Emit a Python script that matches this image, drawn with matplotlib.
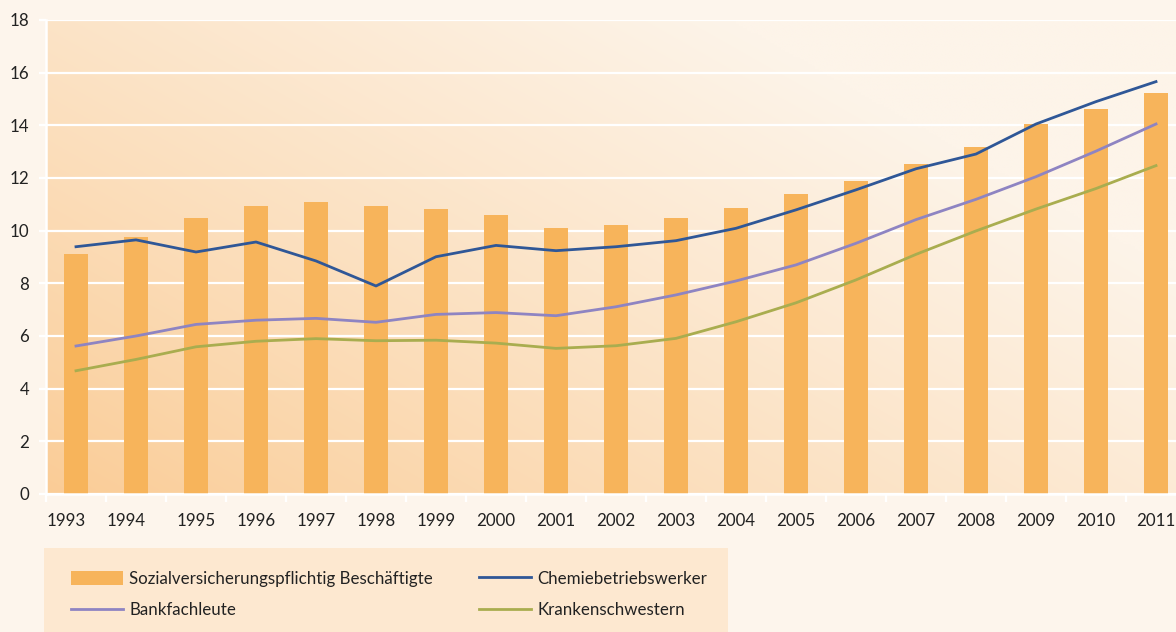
import numpy as np
import matplotlib.pyplot as plt
from matplotlib.patches import Rectangle, Patch
from matplotlib.lines import Line2D

plt.rcParams['font.family'] = ['Lato', 'DejaVu Sans']

years = ['1993', '1994', '1995', '1996', '1997', '1998', '1999', '2000', '2001', '2002',
         '2003', '2004', '2005', '2006', '2007', '2008', '2009', '2010', '2011']
beschaeftigte = [9.1, 9.75, 10.48, 10.94, 11.09, 10.94, 10.82, 10.6, 10.1, 10.22,
                 10.48, 10.86, 11.39, 11.89, 12.53, 13.18, 14.05, 14.62, 15.23]
chemie = [9.39, 9.65, 9.19, 9.57, 8.85, 7.9, 9.01, 9.44, 9.24, 9.39,
          9.62, 10.09, 10.79, 11.55, 12.35, 12.91, 14.05, 14.9, 15.66]
bank = [5.62, 6.0, 6.44, 6.6, 6.67, 6.52, 6.82, 6.89, 6.77, 7.11,
        7.56, 8.09, 8.7, 9.52, 10.42, 11.19, 12.05, 13.02, 14.05]
kranken = [4.68, 5.11, 5.59, 5.8, 5.9, 5.82, 5.84, 5.73, 5.53, 5.63,
           5.91, 6.54, 7.26, 8.13, 9.1, 9.99, 10.82, 11.6, 12.47]

c_bar = '#f7b45b'
c_chemie = '#2f5797'
c_bank = '#8e84c2'
c_kranken = '#a9ad4f'
c_text = '#222222'
bg = '#fdf5ec'
fs = 12.2

fig = plt.figure(figsize=(11.76, 6.32), dpi=100, facecolor=bg)
ax = fig.add_axes([46/1176, 1-494/632, 1140/1176, 474/632])
ax.set_facecolor(bg)

x = np.arange(len(years))
ax.set_xlim(-0.5, len(years) - 0.5)
ax.set_ylim(0, 18)

# diagonal gradient behind the plot
gx, gy = np.meshgrid(np.linspace(0, 1, 300), np.linspace(0, 1, 200))
t = np.clip(0.75 * gx + 0.55 * gy, 0, 1) ** 0.9
c0 = np.array([250, 204, 150]) / 255
c1 = np.array([253, 244, 233]) / 255
img = c0 + (c1 - c0) * t[..., None]
ax.imshow(img, origin='lower', extent=[-0.5, len(years) - 0.5, 0, 18],
          aspect='auto', zorder=0, interpolation='bilinear')

ax.bar(x, beschaeftigte, width=0.39, color=c_bar, zorder=2)
ax.plot(x, chemie, color=c_chemie, lw=2.0, zorder=3)
ax.plot(x, bank, color=c_bank, lw=2.0, zorder=3)
ax.plot(x, kranken, color=c_kranken, lw=2.0, zorder=3)

ax.set_yticks(np.arange(0, 19, 2))
ax.yaxis.grid(True, color='white', lw=1.6, zorder=1)
ax.set_axisbelow(True)

label_shift = [-0.17, -0.17] + [0] * (len(years) - 2)
ax.set_xticks(x + np.array(label_shift))
ax.set_xticklabels(years)
ax.set_xticks(np.arange(-0.5, len(years) - 0.5, 1), minor=True)
ax.tick_params(axis='x', which='major', length=0, pad=14, labelsize=fs, labelcolor=c_text)
ax.tick_params(axis='x', which='minor', length=6, width=1.6, color='white')
ax.tick_params(axis='y', length=5, width=1.6, color='white', pad=7, labelsize=fs, labelcolor=c_text)

for s in ['top', 'right']:
    ax.spines[s].set_visible(False)
for s in ['left', 'bottom']:
    ax.spines[s].set_color('white')
    ax.spines[s].set_linewidth(1.8)
    ax.spines[s].set_zorder(4)

# legend panel
fig.patches.append(Rectangle((44/1176, 0), (728-44)/1176, (632-548)/632,
                             transform=fig.transFigure, facecolor='#fde8d0',
                             edgecolor='none', zorder=0))

leg_kw = dict(loc='center left', frameon=False, fontsize=fs, handlelength=3.05,
              handleheight=0.9, handletextpad=0.4, labelspacing=0.9,
              borderpad=0, borderaxespad=0, labelcolor=c_text)
h1 = [Patch(facecolor=c_bar, edgecolor='none'), Line2D([], [], color=c_bank, lw=2.0)]
l1 = ['Sozialversicherungspflichtig Beschäftigte', 'Bankfachleute']
h2 = [Line2D([], [], color=c_chemie, lw=2.0), Line2D([], [], color=c_kranken, lw=2.0)]
l2 = ['Chemiebetriebswerker', 'Krankenschwestern']
fig.legend(h1, l1, bbox_to_anchor=(71/1176, 1-594.5/632), **leg_kw)
fig.legend(h2, l2, bbox_to_anchor=(479/1176, 1-594.5/632), **leg_kw)

fig.savefig('out.png', dpi=100, facecolor=bg)
